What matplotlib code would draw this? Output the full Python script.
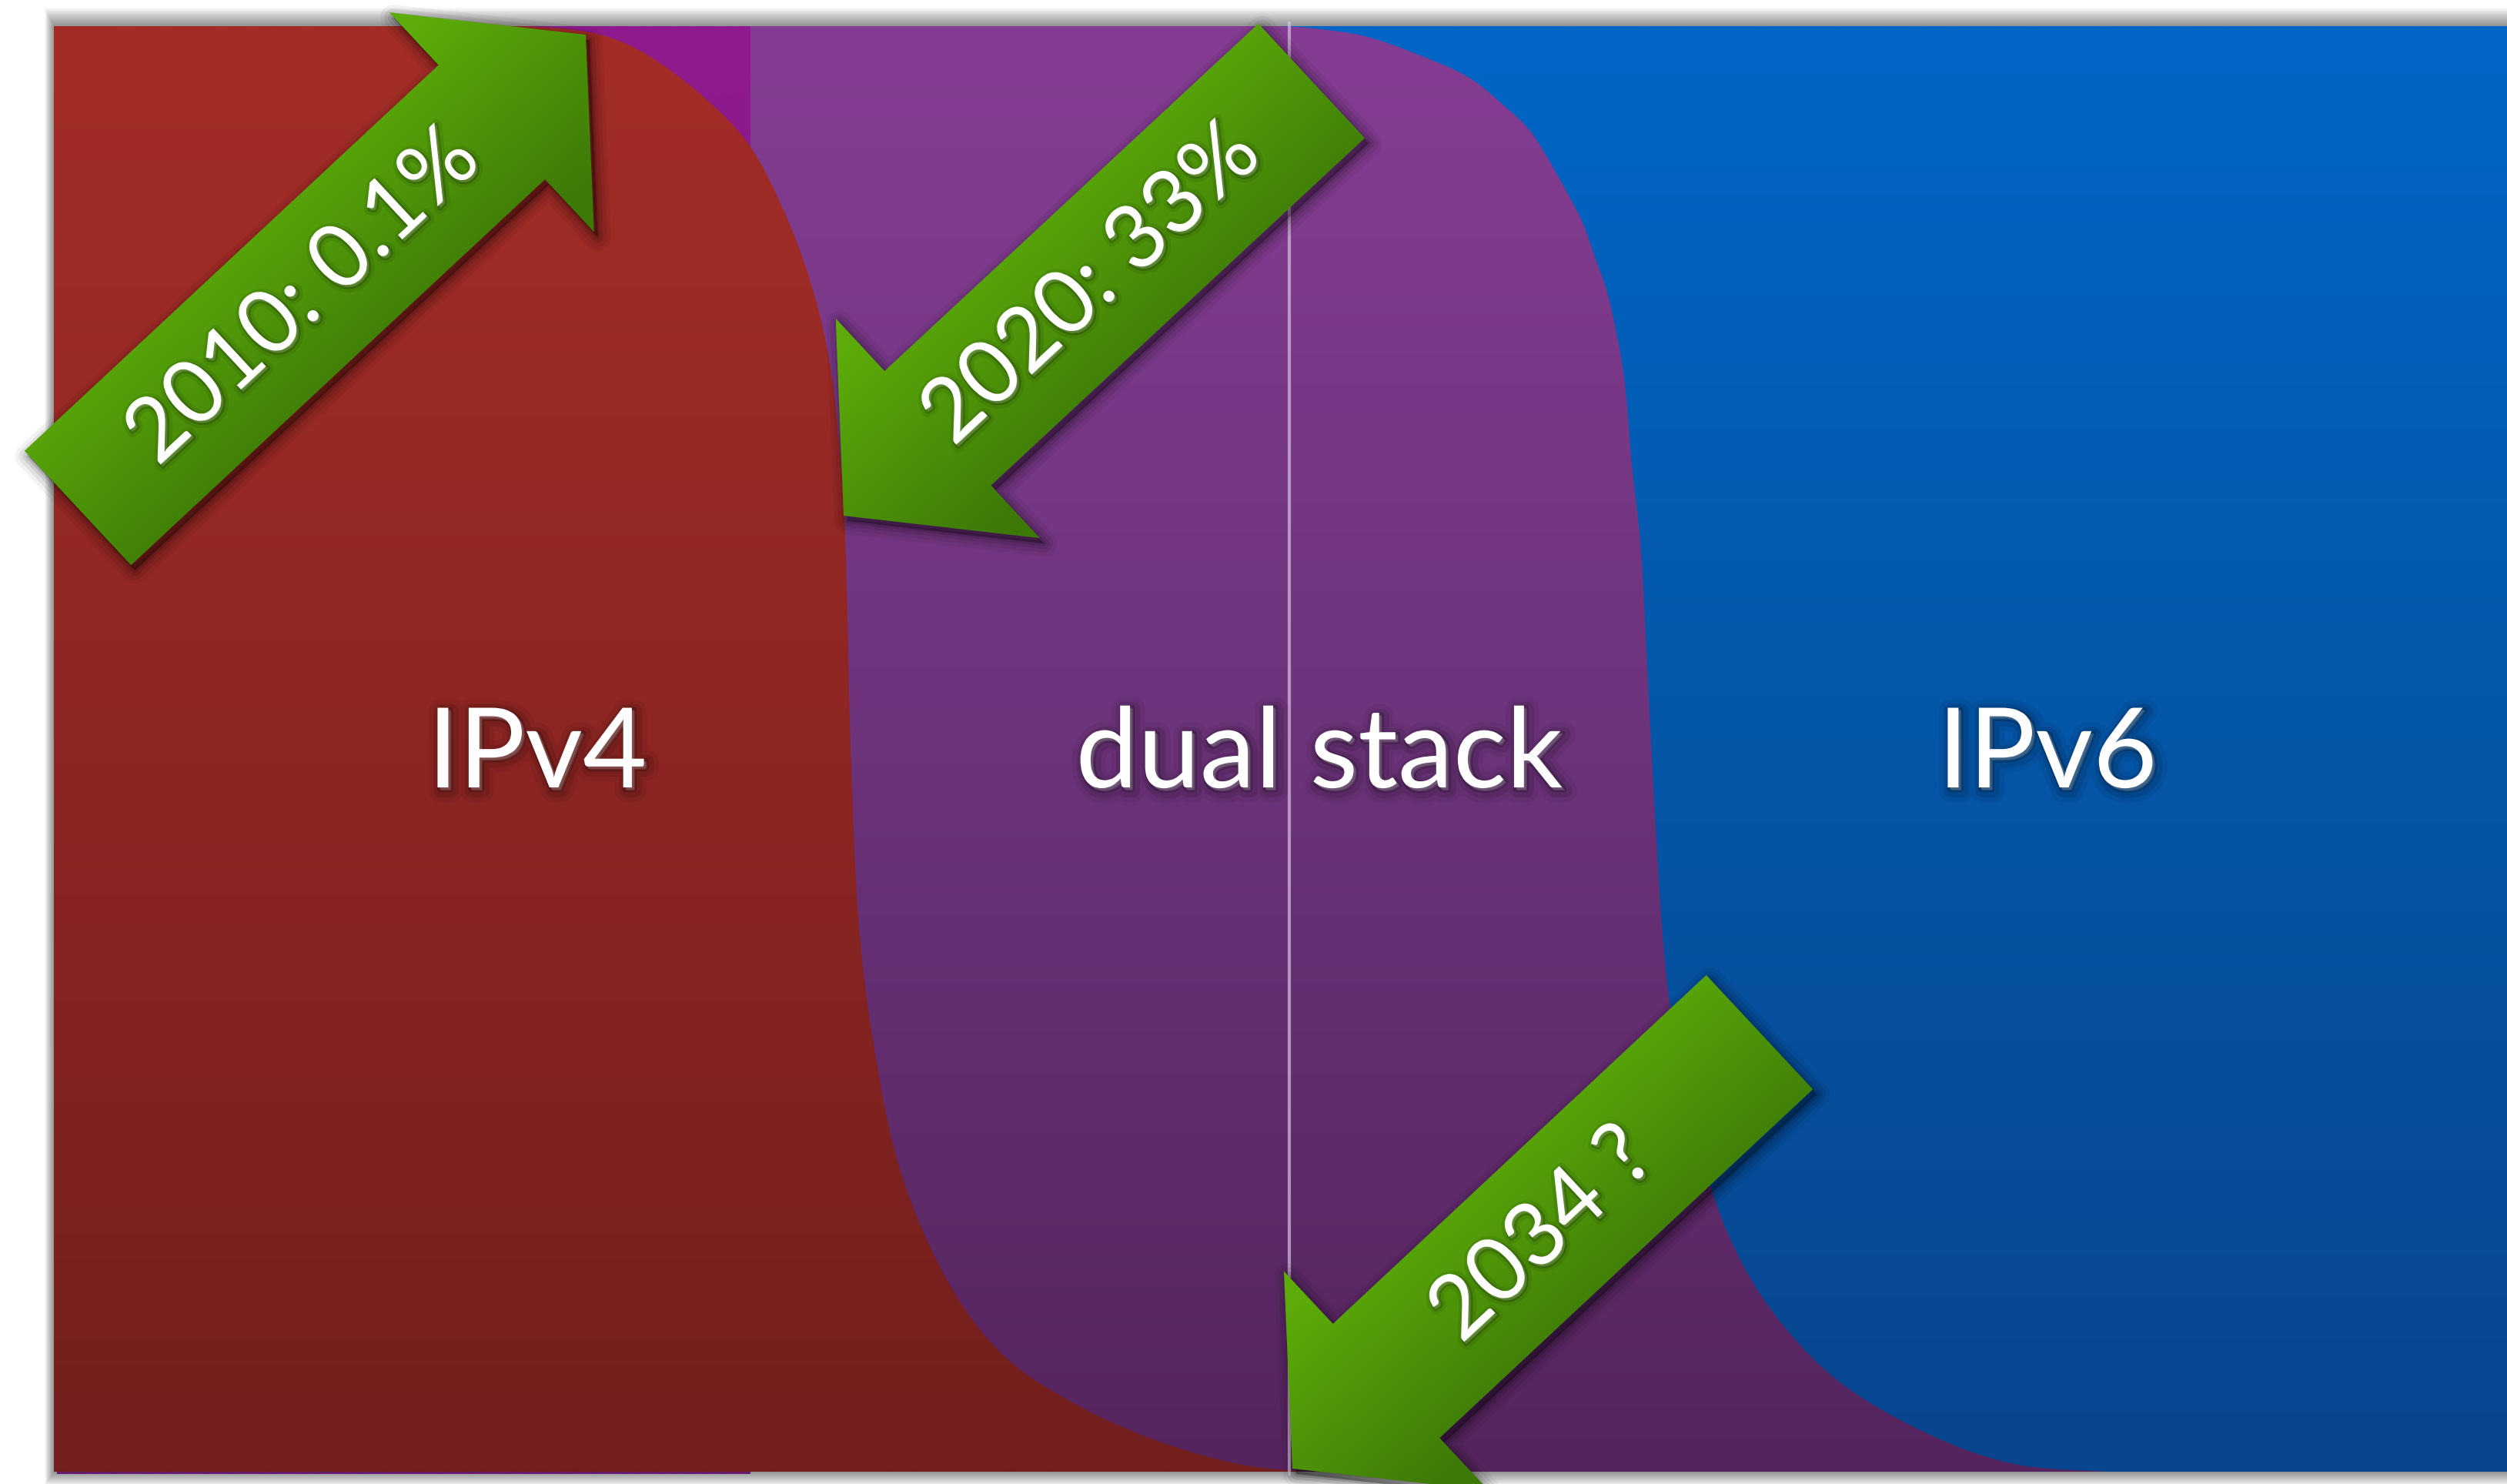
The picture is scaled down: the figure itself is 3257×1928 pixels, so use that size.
import numpy as np
import matplotlib
matplotlib.use("Agg")
import matplotlib.pyplot as plt
from matplotlib.patches import Rectangle, PathPatch, FancyArrow, Polygon
from matplotlib.path import Path
import matplotlib.patheffects as pe
from matplotlib.colors import to_rgb

plt.rcParams['font.family'] = ['Lato', 'DejaVu Sans']

W, H = 3257, 1928

# ---------------- data (pixel units) ----------------
categories = ["IPv4", "dual stack", "IPv6"]
label_x = [698, 1714, 2660]
label_baseline_y = 1023

# edge between IPv4-only (left) and dual stack
ipv4_edge_y = [34, 38, 48, 72, 124, 191, 287, 383, 478, 574, 670, 800, 971,
               1192, 1357, 1522, 1666, 1765, 1831, 1875, 1903, 1912]
ipv4_edge_x = [680, 740, 790, 842, 912, 975, 1024, 1058, 1079, 1090, 1097, 1101, 1105,
               1115, 1135, 1170, 1232, 1308, 1410, 1512, 1614, 1700]

# edge between dual stack and IPv6-only
dual_edge_y = [34, 37, 47, 70, 100, 140, 173, 227, 287, 337, 387, 470, 520, 604,
               717, 887, 1057, 1227, 1341, 1477, 1601, 1703, 1794, 1862, 1902, 1912]
dual_edge_x = [1662, 1707, 1773, 1840, 1907, 1957, 1990, 2023, 2055, 2073, 2090, 2107,
               2113, 2120, 2132, 2141, 2150, 2161, 2175, 2204, 2244, 2302, 2388, 2503,
               2617, 2740]

divider_x = 1675

arrow_labels = ["2010: 0.1%", "2020: 33%", "2034 ?"]
arrow_tail_x = [101, 1704, 2286]
arrow_tail_y = [660, 105, 1341]
arrow_tip_x = [761, 1096, 1679]
arrow_tip_y = [45, 670, 1908]
arrow_label_pos = [0.445, 0.469, 0.465]

# ---------------- layout / style ----------------
PX0, PY0, PX1, PY1 = 70, 34, W + 10, 1912
MAG_X1 = 975

fig = plt.figure(figsize=(W / 100, H / 100), dpi=100)
fig.patch.set_facecolor('white')
ax = fig.add_axes([0, 0, 1, 1])
ax.set_axis_off()
ax.set_xlim(0, W)
ax.set_ylim(H, 0)
ax.set_autoscale_on(False)


def stops_img(stops, n=256):
    pos = np.array([s[0] for s in stops], float)
    cols = np.array([to_rgb(s[1]) for s in stops])
    t = np.linspace(pos[0], pos[-1], n)
    img = np.stack([np.interp(t, pos, cols[:, k]) for k in range(3)], axis=-1)
    return img[:, None, :]


def vgrad(path, stops, x0, x1, y0, y1, z):
    patch = PathPatch(path, facecolor='none', edgecolor='none', lw=0, zorder=z)
    ax.add_patch(patch)
    im = ax.imshow(stops_img(stops), extent=(x0, x1, y1, y0), origin='upper',
                   aspect='auto', interpolation='bilinear', zorder=z)
    im.set_clip_path(patch)


def smooth_region(xs, ys, left, top, bottom):
    pts = np.column_stack([xs, ys]).astype(float)
    n = len(pts)
    verts = [(left, top), tuple(pts[0])]
    codes = [Path.MOVETO, Path.LINETO]
    for i in range(n - 1):
        p0 = pts[i - 1] if i > 0 else pts[i]
        p1, p2 = pts[i], pts[i + 1]
        p3 = pts[i + 2] if i + 2 < n else pts[i + 1]
        c1 = p1 + (p2 - p0) / 6.0
        c2 = p2 - (p3 - p1) / 6.0
        verts += [tuple(c1), tuple(c2), tuple(p2)]
        codes += [Path.CURVE4] * 3
    verts += [(left, bottom), (left, top)]
    codes += [Path.LINETO, Path.CLOSEPOLY]
    return Path(verts, codes)


# panel drop shadow
N = 24
for k in range(1, N + 1):
    el, et, eb = k * 0.5, k * 1.0, k * 0.75
    ax.add_patch(Rectangle((PX0 - el, PY0 - et), (PX1 - PX0) + el, (PY1 - PY0) + et + eb,
                           facecolor='black', edgecolor='none', alpha=0.018, zorder=0))

# IPv6 background (blue)
rect = Path([(PX0, PY0), (PX1, PY0), (PX1, PY1), (PX0, PY1), (PX0, PY0)],
            [Path.MOVETO, Path.LINETO, Path.LINETO, Path.LINETO, Path.CLOSEPOLY])
vgrad(rect, [(PY0, '#0066C6'), (960, '#0556A8'), (PY1, '#08458E')], PX0, PX1, PY0, PY1, 1)

# dual stack (purple)
dual_path = smooth_region(dual_edge_x, dual_edge_y, PX0, PY0, PY1)
vgrad(dual_path, [(PY0, '#853D93'), (960, '#6D337B'), (PY1, '#55245E')], PX0, 2800, PY0, PY1, 2)

# magenta strip behind IPv4
mag = Path([(PX0, PY0), (MAG_X1, PY0), (MAG_X1, PY1 + 3), (PX0 + 4, PY1 + 3), (PX0, PY0)],
           [Path.MOVETO, Path.LINETO, Path.LINETO, Path.LINETO, Path.CLOSEPOLY])
vgrad(mag, [(PY0, '#901A8F'), (PY1, '#651A6B')], PX0, MAG_X1, PY0, PY1 + 3, 3)

# IPv4 (red)
red_path = smooth_region(ipv4_edge_x, ipv4_edge_y, PX0, PY0, PY1)
vgrad(red_path, [(PY0, '#A42D27'), (960, '#8E2623'), (PY1, '#721F1D')], PX0, 1800, PY0, PY1, 4)

# divider line
ax.plot([divider_x, divider_x], [28, 1917], color='#D6C2E0', lw=3.0, alpha=0.7,
        solid_capstyle='butt', zorder=5)

# region labels
lab_fx = [pe.Stroke(linewidth=22, foreground='black', alpha=0.06, offset=(3, -3)),
          pe.Stroke(linewidth=13, foreground='black', alpha=0.10, offset=(3, -3)),
          pe.Stroke(linewidth=5, foreground='black', alpha=0.20, offset=(2, -2)),
          pe.Normal()]
for name, x in zip(categories, label_x):
    ax.text(x, label_baseline_y, name, color='white', fontsize=104, ha='center',
            va='baseline', zorder=6, path_effects=lab_fx)

# arrows
LIGHT = np.array(to_rgb('#5CAB0A'))
DARK = np.array(to_rgb('#3D7908'))
txt_fx = [pe.Stroke(linewidth=10, foreground='black', alpha=0.08, offset=(2, -2)),
          pe.Stroke(linewidth=4, foreground='black', alpha=0.18, offset=(2, -2)),
          pe.Normal()]
for lab, tx, ty, hx, hy, tpos in zip(arrow_labels, arrow_tail_x, arrow_tail_y,
                                     arrow_tip_x, arrow_tip_y, arrow_label_pos):
    tail = np.array([tx, ty], float)
    tip = np.array([hx, hy], float)
    d = tip - tail
    L = np.hypot(*d)
    u = d / L
    perp = np.array([-u[1], u[0]])
    if perp[0] + perp[1] < 0:
        perp = -perp
    arr = FancyArrow(tx, ty, d[0], d[1], width=203, head_width=390, head_length=167,
                     length_includes_head=True, facecolor='none', edgecolor='none',
                     lw=0, zorder=8)
    ax.add_patch(arr)
    xy = arr.get_xy()
    # soft shadow
    for w, a in [(34, 0.05), (24, 0.07), (14, 0.09), (6, 0.12)]:
        ax.add_patch(Polygon(xy + np.array([5, 7]), closed=True, facecolor='black',
                             edgecolor='black', lw=w * 0.72, alpha=a, joinstyle='round',
                             zorder=7))
    x0, x1 = xy[:, 0].min(), xy[:, 0].max()
    y0, y1 = xy[:, 1].min(), xy[:, 1].max()
    gx = np.linspace(x0, x1, 240)
    gy = np.linspace(y0, y1, 240)
    X, Y = np.meshgrid(gx, gy)
    s = (X - tail[0]) * perp[0] + (Y - tail[1]) * perp[1]
    t = np.clip((s + 150) / 300, 0, 1)
    img = LIGHT * (1 - t)[..., None] + DARK * t[..., None]
    im = ax.imshow(img, extent=(x0, x1, y1, y0), origin='upper', aspect='auto',
                   interpolation='bilinear', zorder=8)
    im.set_clip_path(arr)
    c = tail + d * tpos
    ang = np.degrees(np.arctan2(abs(d[1]), abs(d[0])))
    ax.text(c[0], c[1], lab, color='white', fontsize=83, rotation=ang,
            rotation_mode='anchor', ha='center', va='center', zorder=9,
            path_effects=txt_fx)

ax.set_xlim(0, W)
ax.set_ylim(H, 0)
fig.savefig('out.png', dpi=100, facecolor='white')
